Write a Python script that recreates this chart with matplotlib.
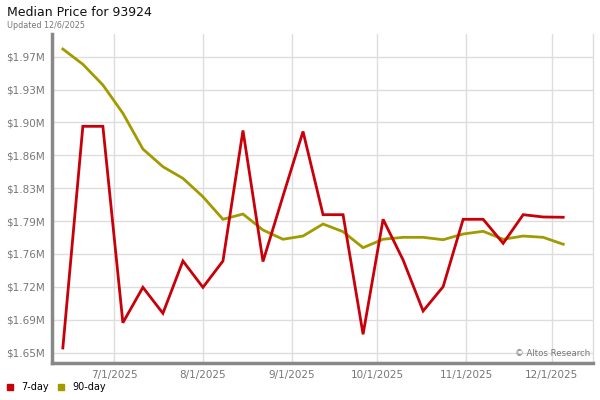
import numpy as np
import pandas as pd
import matplotlib
matplotlib.use("Agg")
import matplotlib.pyplot as plt
import matplotlib.dates as mdates
from matplotlib.ticker import FuncFormatter, FixedLocator

# weekly data points (Fridays)
dates = pd.date_range("2025-06-13", "2025-12-05", freq="7D")
median_7day = [1.6549, 1.8947, 1.8947, 1.6822, 1.7205, 1.6924, 1.7490, 1.7205,
               1.7490, 1.8902, 1.7484, 1.8193, 1.8891, 1.7991, 1.7991, 1.6697,
               1.7941, 1.7501, 1.6949, 1.7212, 1.7941, 1.7941, 1.7681, 1.7991,
               1.7966, 1.7963]
median_90day = [1.9783, 1.9618, 1.9394, 1.9088, 1.8701, 1.8510, 1.8384, 1.8185,
                1.7941, 1.7998, 1.7825, 1.7725, 1.7760, 1.7890, 1.7807, 1.7634,
                1.7725, 1.7746, 1.7746, 1.7720, 1.7782, 1.7811, 1.7725, 1.7760,
                1.7746, 1.7671]
yticks = np.linspace(1.65, 1.97, 10)
xticks = pd.to_datetime(["2025-07-01", "2025-08-01", "2025-09-01",
                         "2025-10-01", "2025-11-01", "2025-12-01"])

red = "#c8000a"
olive = "#a19b00"

fig = plt.figure(figsize=(6, 4), dpi=100)
ax = fig.add_axes([52 / 600, 1 - 363 / 400, (593 - 52) / 600, (363 - 34) / 400])

ax.plot(dates, median_90day, color=olive, lw=2.0, solid_joinstyle="miter", zorder=3)
ax.plot(dates, median_7day, color=red, lw=2.0, solid_joinstyle="miter", zorder=4)

ax.set_xlim(pd.Timestamp("2025-06-09 05:00"), pd.Timestamp("2025-12-15 10:00"))
ax.set_ylim(1.65 - 0.0010818 * 10.5, 1.97 + 0.0010818 * 22.7)

ax.yaxis.set_major_locator(FixedLocator(yticks))
ax.yaxis.set_major_formatter(FuncFormatter(lambda v, p: "$%.2fM" % v))
ax.xaxis.set_major_locator(FixedLocator(mdates.date2num(xticks)))
ax.xaxis.set_major_formatter(FuncFormatter(
    lambda v, p: "%d/%d/%d" % (mdates.num2date(v).month, mdates.num2date(v).day,
                               mdates.num2date(v).year)))

ax.grid(True, color="#dddddd", lw=1.0)
ax.set_axisbelow(True)
ax.tick_params(length=0, labelsize=7.5, labelcolor="#777777", pad=5)

for s in ["left", "bottom"]:
    ax.spines[s].set_color("#888888")
    ax.spines[s].set_linewidth(2.5)
ax.spines["top"].set_visible(False)
ax.spines["right"].set_color("#dddddd")
ax.spines["right"].set_linewidth(1.0)

ax.text(0.995, 0.03, "© Altos Research", transform=ax.transAxes, ha="right",
        va="center", fontsize=6.2, color="#777777")

fig.text(7 / 600, 1 - 12 / 400, "Median Price for 93924", fontsize=9,
         va="center", ha="left", color="#111111")
fig.text(7 / 600, 1 - 25 / 400, "Updated 12/6/2025", fontsize=5.8,
         va="center", ha="left", color="#777777")

# legend along the bottom
fig.patches.append(plt.Rectangle((7 / 600, 1 - 390 / 400), 6 / 600, 6 / 400,
                                 transform=fig.transFigure, color=red))
fig.text(21 / 600, 1 - 387 / 400, "7-day", fontsize=7, va="center", ha="left")
fig.patches.append(plt.Rectangle((58 / 600, 1 - 390 / 400), 6 / 600, 6 / 400,
                                 transform=fig.transFigure, color=olive))
fig.text(72 / 600, 1 - 387 / 400, "90-day", fontsize=7, va="center", ha="left")

fig.savefig("out.png", dpi=100)
